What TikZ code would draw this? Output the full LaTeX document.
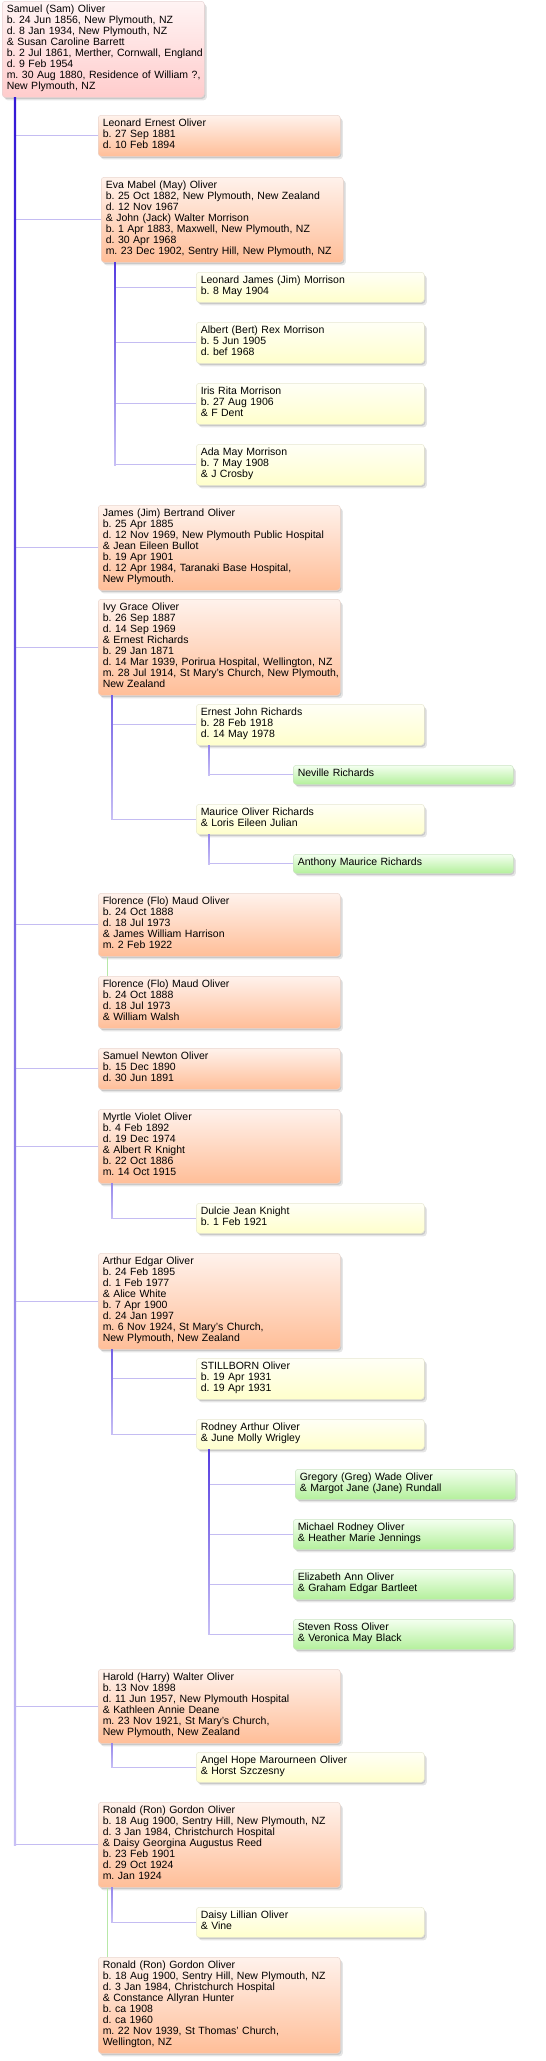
\documentclass[tikz,border=0pt]{standalone}
\usepackage{fontspec}
\setmainfont{Liberation Sans}
\usetikzlibrary{shadows,calc}
\frenchspacing
\definecolor{pinkT}{RGB}{255,244,244}
\definecolor{pinkB}{RGB}{255,204,204}
\definecolor{pinkL}{RGB}{232,212,212}
\definecolor{peachT}{RGB}{255,242,236}
\definecolor{peachB}{RGB}{255,190,152}
\definecolor{peachL}{RGB}{234,214,206}
\definecolor{yelT}{RGB}{255,255,246}
\definecolor{yelB}{RGB}{255,255,204}
\definecolor{yelL}{RGB}{232,232,210}
\definecolor{grnT}{RGB}{244,255,240}
\definecolor{grnB}{RGB}{180,240,156}
\definecolor{grnL}{RGB}{204,228,196}
\definecolor{tA}{RGB}{52,24,214}
\definecolor{tB}{RGB}{85,60,224}
\definecolor{tC}{RGB}{115,95,230}
\definecolor{tD}{RGB}{150,135,236}
\definecolor{tEnd}{RGB}{200,192,245}
\definecolor{hline}{RGB}{196,188,242}
\definecolor{spouseline}{RGB}{184,232,168}
\newcommand\plines[1]{\noindent\begin{tabular}{@{}l@{}}#1\end{tabular}}
\tikzset{
  box/.style={anchor=north west, rounded corners=3pt, line width=0.5pt,
    inner xsep=4.5pt, inner ysep=4pt, align=left,
    font=\fontsize{10.5}{11}\selectfont\frenchspacing,
    drop shadow={shadow xshift=1pt, shadow yshift=-1.5pt, opacity=0.12, fill=black},
    drop shadow={shadow xshift=2.5pt, shadow yshift=-3pt, opacity=0.10, fill=black}},
  rootbox/.style={box, text width=193pt, top color=pinkT, bottom color=pinkB, draw=pinkL},
  genA/.style={box, text width=233pt, top color=peachT, bottom color=peachB, draw=peachL},
  genB/.style={box, text width=219pt, top color=yelT, bottom color=yelB, draw=yelL},
  genC/.style={box, text width=211pt, top color=grnT, bottom color=grnB, draw=grnL},
  hconn/.style={draw=hline, line width=1.3pt},
  trunk/.style={top color=#1, bottom color=tEnd, draw=none},
  spouse/.style={draw=spouseline, line width=1pt},
}
\begin{document}
\begin{tikzpicture}[x=1pt,y=-1pt]
\useasboundingbox (0,0) rectangle (546,2061);

\node[rootbox] (root) at (2,1) {\plines{Samuel (Sam) Oliver\\ b. 24 Jun 1856, New Plymouth, NZ\\ d. 8 Jan 1934, New Plymouth, NZ\\ \& Susan Caroline Barrett\\ b. 2 Jul 1861, Merther, Cornwall, England\\ d. 9 Feb 1954\\ m. 30 Aug 1880, Residence of William ?,\\ New Plymouth, NZ}};

\node[genA] (leonard) at (98,115) {\plines{Leonard Ernest Oliver\\ b. 27 Sep 1881\\ d. 10 Feb 1894}};
\node[genA] (eva) at (101,177) {\plines{Eva Mabel (May) Oliver\\ b. 25 Oct 1882, New Plymouth, New Zealand\\ d. 12 Nov 1967\\ \& John (Jack) Walter Morrison\\ b. 1 Apr 1883, Maxwell, New Plymouth, NZ\\ d. 30 Apr 1968\\ m. 23 Dec 1902, Sentry Hill, New Plymouth, NZ}};
\node[genB] (ljim) at (196,272) {\plines{Leonard James (Jim) Morrison\\ b. 8 May 1904}};
\node[genB] (albert) at (196,322) {\plines{Albert (Bert) Rex Morrison\\ b. 5 Jun 1905\\ d. bef 1968}};
\node[genB] (iris) at (196,383) {\plines{Iris Rita Morrison\\ b. 27 Aug 1906\\ \& F Dent}};
\node[genB] (ada) at (196,444) {\plines{Ada May Morrison\\ b. 7 May 1908\\ \& J Crosby}};
\node[genA] (james) at (98,505) {\plines{James (Jim) Bertrand Oliver\\ b. 25 Apr 1885\\ d. 12 Nov 1969, New Plymouth Public Hospital\\ \& Jean Eileen Bullot\\ b. 19 Apr 1901\\ d. 12 Apr 1984, Taranaki Base Hospital,\\ New Plymouth.}};
\node[genA] (ivy) at (98,599) {\plines{Ivy Grace Oliver\\ b. 26 Sep 1887\\ d. 14 Sep 1969\\ \& Ernest Richards\\ b. 29 Jan 1871\\ d. 14 Mar 1939, Porirua Hospital, Wellington, NZ\\ m. 28 Jul 1914, St Mary's Church, New Plymouth,\\ New Zealand}};
\node[genB] (ernest) at (196,704) {\plines{Ernest John Richards\\ b. 28 Feb 1918\\ d. 14 May 1978}};
\node[genC] (neville) at (293,765) {\plines{Neville Richards}};
\node[genB] (maurice) at (196,804) {\plines{Maurice Oliver Richards\\ \& Loris Eileen Julian}};
\node[genC] (anthony) at (293,854) {\plines{Anthony Maurice Richards}};
\node[genA] (flo1) at (98,893) {\plines{Florence (Flo) Maud Oliver\\ b. 24 Oct 1888\\ d. 18 Jul 1973\\ \& James William Harrison\\ m. 2 Feb 1922}};
\node[genA] (flo2) at (98,976) {\plines{Florence (Flo) Maud Oliver\\ b. 24 Oct 1888\\ d. 18 Jul 1973\\ \& William Walsh}};
\node[genA] (samn) at (98,1048) {\plines{Samuel Newton Oliver\\ b. 15 Dec 1890\\ d. 30 Jun 1891}};
\node[genA] (myrtle) at (98,1109) {\plines{Myrtle Violet Oliver\\ b. 4 Feb 1892\\ d. 19 Dec 1974\\ \& Albert R Knight\\ b. 22 Oct 1886\\ m. 14 Oct 1915}};
\node[genB] (dulcie) at (196,1203) {\plines{Dulcie Jean Knight\\ b. 1 Feb 1921}};
\node[genA] (arthur) at (98,1253) {\plines{Arthur Edgar Oliver\\ b. 24 Feb 1895\\ d. 1 Feb 1977\\ \& Alice White\\ b. 7 Apr 1900\\ d. 24 Jan 1997\\ m. 6 Nov 1924, St Mary's Church,\\ New Plymouth, New Zealand}};
\node[genB] (still) at (196,1358) {\plines{STILLBORN Oliver\\ b. 19 Apr 1931\\ d. 19 Apr 1931}};
\node[genB] (rodney) at (196,1419) {\plines{Rodney Arthur Oliver\\ \& June Molly Wrigley}};
\node[genC] (greg) at (295,1469) {\plines{Gregory (Greg) Wade Oliver\\ \& Margot Jane (Jane) Rundall}};
\node[genC] (michael) at (293,1519) {\plines{Michael Rodney Oliver\\ \& Heather Marie Jennings}};
\node[genC] (eliz) at (293,1569) {\plines{Elizabeth Ann Oliver\\ \& Graham Edgar Bartleet}};
\node[genC] (steven) at (293,1619) {\plines{Steven Ross Oliver\\ \& Veronica May Black}};
\node[genA] (harold) at (98,1669) {\plines{Harold (Harry) Walter Oliver\\ b. 13 Nov 1898\\ d. 11 Jun 1957, New Plymouth Hospital\\ \& Kathleen Annie Deane\\ m. 23 Nov 1921, St Mary's Church,\\ New Plymouth, New Zealand}};
\node[genB] (angel) at (196,1752) {\plines{Angel Hope Marourneen Oliver\\ \& Horst Szczesny}};
\node[genA] (ron1) at (98,1802) {\plines{Ronald (Ron) Gordon Oliver\\ b. 18 Aug 1900, Sentry Hill, New Plymouth, NZ\\ d. 3 Jan 1984, Christchurch Hospital\\ \& Daisy Georgina Augustus Reed\\ b. 23 Feb 1901\\ d. 29 Oct 1924\\ m. Jan 1924}};
\node[genB] (daisy) at (196,1907) {\plines{Daisy Lillian Oliver\\ \& Vine}};
\node[genA] (ron2) at (98,1957) {\plines{Ronald (Ron) Gordon Oliver\\ b. 18 Aug 1900, Sentry Hill, New Plymouth, NZ\\ d. 3 Jan 1984, Christchurch Hospital\\ \& Constance Allyran Hunter\\ b. ca 1908\\ d. ca 1960\\ m. 22 Nov 1939, St Thomas' Church,\\ Wellington, NZ}};

% trunk coordinates
\coordinate (rt) at ($(root.south west)+(13,0)$);
\coordinate (evat) at ($(eva.south west)+(14,0)$);
\coordinate (ivyt) at ($(ivy.south west)+(14,0)$);
\coordinate (ernt) at ($(ernest.south west)+(13,0)$);
\coordinate (maut) at ($(maurice.south west)+(13,0)$);
\coordinate (myrt) at ($(myrtle.south west)+(14,0)$);
\coordinate (artt) at ($(arthur.south west)+(14,0)$);
\coordinate (rodt) at ($(rodney.south west)+(13,0)$);
\coordinate (hart) at ($(harold.south west)+(14,0)$);
\coordinate (ront) at ($(ron1.south west)+(14,0)$);

% horizontal connectors
\foreach \c in {leonard,eva,james,ivy,flo1,samn,myrtle,arthur,harold,ron1}
  \draw[hconn] (rt |- \c.west) -- (\c.west);
\foreach \c in {ljim,albert,iris,ada}
  \draw[hconn] (evat |- \c.west) -- (\c.west);
\foreach \c in {ernest,maurice}
  \draw[hconn] (ivyt |- \c.west) -- (\c.west);
\draw[hconn] (ernt |- neville.west) -- (neville.west);
\draw[hconn] (maut |- anthony.west) -- (anthony.west);
\draw[hconn] (myrt |- dulcie.west) -- (dulcie.west);
\foreach \c in {still,rodney}
  \draw[hconn] (artt |- \c.west) -- (\c.west);
\foreach \c in {greg,michael,eliz,steven}
  \draw[hconn] (rodt |- \c.west) -- (\c.west);
\draw[hconn] (hart |- angel.west) -- (angel.west);
\draw[hconn] (ront |- daisy.west) -- (daisy.west);

% vertical trunks
\shade[trunk=tA] ($(rt)+(-1.1,0)$) rectangle ($(rt |- ron1.west)+(1.1,0.65)$);
\shade[trunk=tB] ($(evat)+(-0.8,0)$) rectangle ($(evat |- ada.west)+(0.8,0.65)$);
\shade[trunk=tC] ($(ivyt)+(-0.8,0)$) rectangle ($(ivyt |- maurice.west)+(0.8,0.65)$);
\shade[trunk=tD] ($(ernt)+(-0.8,0)$) rectangle ($(ernt |- neville.west)+(0.8,0.65)$);
\shade[trunk=tD] ($(maut)+(-0.8,0)$) rectangle ($(maut |- anthony.west)+(0.8,0.65)$);
\shade[trunk=tD] ($(myrt)+(-0.8,0)$) rectangle ($(myrt |- dulcie.west)+(0.8,0.65)$);
\shade[trunk=tC] ($(artt)+(-0.8,0)$) rectangle ($(artt |- rodney.west)+(0.8,0.65)$);
\shade[trunk=tB] ($(rodt)+(-0.8,0)$) rectangle ($(rodt |- steven.west)+(0.8,0.65)$);
\shade[trunk=tD] ($(hart)+(-0.8,0)$) rectangle ($(hart |- angel.west)+(0.8,0.65)$);
\shade[trunk=tD] ($(ront)+(-0.8,0)$) rectangle ($(ront |- daisy.west)+(0.8,0.65)$);

% spouse links
\coordinate (f1) at ($(flo1.south west)+(9,0)$);
\draw[spouse] (f1) -- (f1 |- flo2.north);
\coordinate (r1) at ($(ron1.south west)+(9,0)$);
\draw[spouse] (r1) -- (r1 |- ron2.north);
\end{tikzpicture}
\end{document}
